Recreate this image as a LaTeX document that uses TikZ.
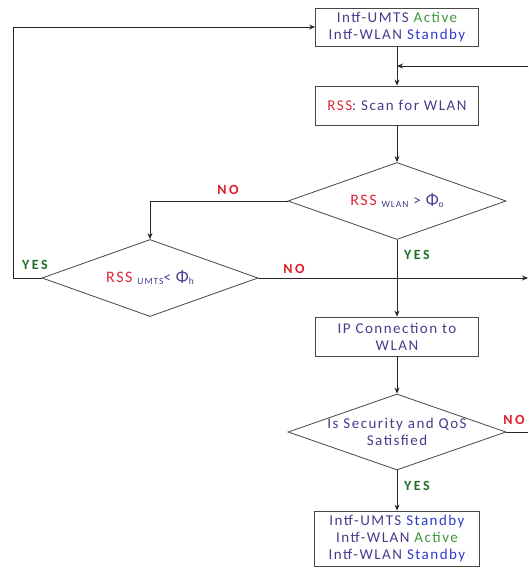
\documentclass[tikz,border=0pt]{standalone}
\usepackage{fontspec}
\setmainfont{Carlito}[LetterSpace=10]
\usetikzlibrary{shapes.geometric,arrows.meta}
\definecolor{ink}{RGB}{72,58,140}
\definecolor{stby}{RGB}{45,60,205}
\definecolor{actv}{RGB}{60,150,60}
\definecolor{rss}{RGB}{222,40,55}
\definecolor{yes}{RGB}{30,110,40}
\definecolor{no}{RGB}{222,30,40}
\definecolor{edge}{RGB}{70,70,70}
\tikzset{
  x=1pt, y=-1pt,
  every node/.style={font=\fontsize{15}{17}\selectfont, text=ink},
  stepbox/.style={draw=edge, line width=0.8pt, rectangle, minimum width=163pt, inner sep=0pt, align=center},
  decision/.style={draw=edge, line width=0.8pt, diamond, minimum width=218pt, minimum height=77pt, inner sep=0pt},
  flow/.style={draw=black!85, line width=0.9pt},
  arr/.style={flow, -{Stealth[length=6pt,width=5pt]}},
  yeslbl/.style={font=\fontsize{14}{15}\selectfont\bfseries\addfontfeature{LetterSpace=18}, text=yes},
  nolbl/.style={font=\fontsize{14}{15}\selectfont\bfseries\addfontfeature{LetterSpace=18}, text=no},
}
\newcommand{\lowsub}[1]{\raisebox{-2pt}{\fontsize{9.5}{10}\selectfont #1}}
\begin{document}
\begin{tikzpicture}
\useasboundingbox (0,0) rectangle (528,568);

% process boxes
\node[stepbox, minimum height=38pt] (b1) at (397,27)
  {Intf-UMTS \textcolor{actv}{Active}\\Intf-WLAN \textcolor{stby}{Standby}};
\node[stepbox, minimum height=39pt] (b2) at (397,105.5)
  {\textcolor{rss}{RSS}: Scan for WLAN};
\node[stepbox, minimum height=39pt] (b3) at (397,336.5)
  {IP Connection to\\WLAN};
\node[stepbox, minimum width=165pt, minimum height=55pt] (b4) at (397,538.5)
  {Intf-UMTS \textcolor{stby}{Standby}\\Intf-WLAN \textcolor{actv}{Active}\\Intf-WLAN \textcolor{stby}{Standby}};

% decisions
\node[decision] (d1) at (397,201) {};
\node (t1) at (d1.center) {\textcolor{rss}{\fontsize{16}{17}\selectfont RSS} \lowsub{WLAN} > {\fontsize{17}{17}\selectfont Φ}\lowsub{o}};
\node[decision, minimum width=216pt] (d2) at (150,278) {};
\node (t2) at (d2.center) {\textcolor{rss}{\fontsize{16}{17}\selectfont RSS} \lowsub{UMTS}< {\fontsize{17}{17}\selectfont Φ}\lowsub{h}};
\node[decision, minimum height=76pt] (d3) at (397,432) {};
\node[align=center] (t3) at (d3.center) {Is Security and QoS\\Satisfied};

% free ends at the picture border
\coordinate (inR) at (528,66);
\coordinate (mrg) at (397,66);
\coordinate (outR) at (528,278);
\coordinate (loopR) at (528,432);
\coordinate (leftX) at (13,278);

% connectors
\draw[arr] (b1.south) -- (b2.north);
\draw[arr] (inR) -- (mrg);
\draw[arr] (b2.south) -- (d1.north);
\draw[arr] (d1.west) -| (d2.north);
\draw[arr] (d2.west) -- (leftX) |- (b1.west);
\draw[arr] (d2.east) -- (outR);
\draw[arr] (d1.south) -- (b3.north);
\draw[arr] (b3.south) -- (d3.north);
\draw[arr] (d3.south) -- (b4.north);
\draw[flow] (d3.east) -- (loopR);

% branch labels
\node[nolbl] (no1) at (228,190) {NO};
\node[yeslbl] (yes1) at (417,255) {YES};
\node[yeslbl] (yes2) at (35,265) {YES};
\node[nolbl] (no2) at (294,269) {NO};
\node[nolbl] (no3) at (514,420) {NO};
\node[yeslbl] (yes3) at (417,486) {YES};
\end{tikzpicture}
\end{document}
